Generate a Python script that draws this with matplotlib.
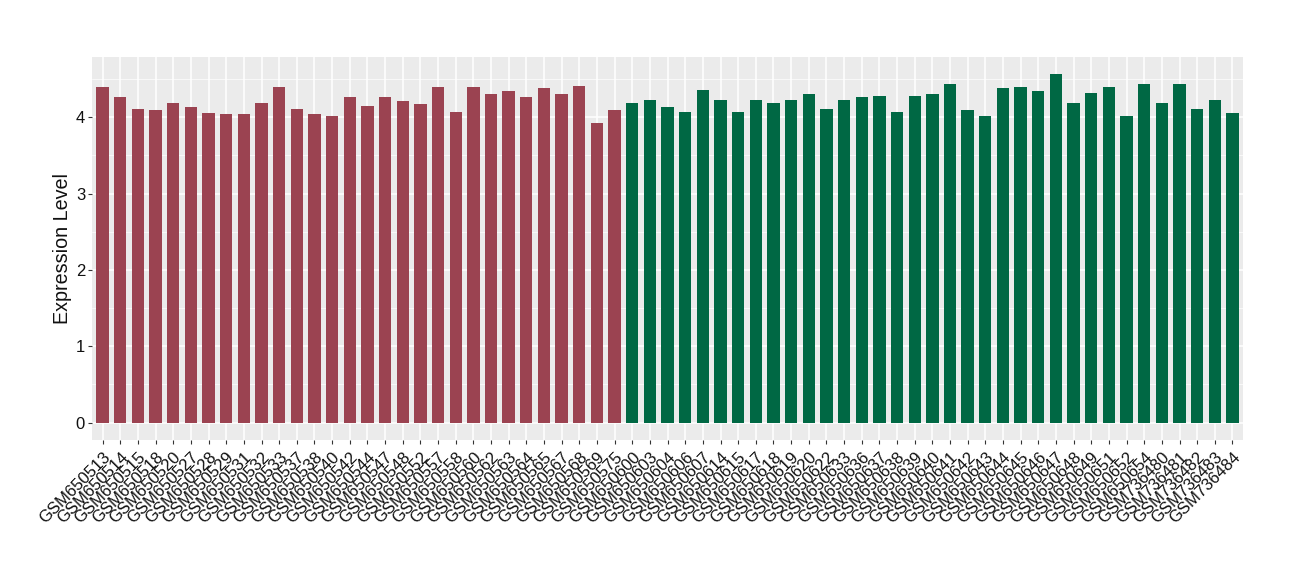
import matplotlib
matplotlib.use("Agg")
import matplotlib.pyplot as plt
import numpy as np
from matplotlib.ticker import MultipleLocator

plt.rcParams['font.family'] = ['Liberation Sans', 'DejaVu Sans']

group1_samples = ["GSM650513", "GSM650514", "GSM650515", "GSM650518", "GSM650520",
                  "GSM650527", "GSM650528", "GSM650529", "GSM650531", "GSM650532",
                  "GSM650533", "GSM650537", "GSM650538", "GSM650540", "GSM650542",
                  "GSM650544", "GSM650547", "GSM650548", "GSM650552", "GSM650557",
                  "GSM650558", "GSM650560", "GSM650562", "GSM650563", "GSM650564",
                  "GSM650565", "GSM650567", "GSM650568", "GSM650569", "GSM650575"]
group1_values = [4.40, 4.26, 4.11, 4.09, 4.19, 4.13, 4.05, 4.04, 4.04, 4.19,
                 4.39, 4.11, 4.04, 4.01, 4.27, 4.15, 4.27, 4.21, 4.17, 4.39,
                 4.07, 4.40, 4.31, 4.34, 4.26, 4.38, 4.30, 4.41, 3.92, 4.10]

group2_samples = ["GSM650600", "GSM650603", "GSM650604", "GSM650606", "GSM650607",
                  "GSM650614", "GSM650615", "GSM650617", "GSM650618", "GSM650619",
                  "GSM650620", "GSM650622", "GSM650633", "GSM650636", "GSM650637",
                  "GSM650638", "GSM650639", "GSM650640", "GSM650641", "GSM650642",
                  "GSM650643", "GSM650644", "GSM650645", "GSM650646", "GSM650647",
                  "GSM650648", "GSM650649", "GSM650651", "GSM650652", "GSM650654",
                  "GSM736480", "GSM736481", "GSM736482", "GSM736483", "GSM736484"]
group2_values = [4.18, 4.23, 4.13, 4.07, 4.36, 4.22, 4.07, 4.22, 4.19, 4.22,
                 4.31, 4.11, 4.22, 4.26, 4.28, 4.07, 4.28, 4.31, 4.43, 4.10,
                 4.02, 4.38, 4.39, 4.34, 4.56, 4.18, 4.32, 4.39, 4.02, 4.43,
                 4.18, 4.44, 4.11, 4.22, 4.06]

color1 = "#9B4351"
color2 = "#006844"

samples = group1_samples + group2_samples
values = group1_values + group2_values
colors = [color1] * len(group1_values) + [color2] * len(group2_values)

fig = plt.figure(figsize=(13, 5.8), dpi=100)
ax = fig.add_axes([0.0708, 0.2414, 0.8854, 0.6603])
x = np.arange(1, len(samples) + 1)
ax.set_facecolor("#EBEBEB")
ax.bar(x, values, width=0.7, color=colors, zorder=3)

n = len(samples)
ax.set_xlim(0.4, n + 0.6)
vmax = max(values)
ax.set_ylim(-0.05 * vmax, vmax * 1.05)
ax.yaxis.set_major_locator(MultipleLocator(1))
ax.yaxis.set_minor_locator(MultipleLocator(0.5))
ax.set_xticks(x)
ax.set_xticklabels(samples, rotation=45, ha='right', rotation_mode='anchor', fontsize=12)
ax.tick_params(axis='y', which='major', labelsize=12, color='#333333', labelcolor='#111111',
               length=3, width=0.8, pad=2)
ax.tick_params(axis='y', which='minor', length=0)
ax.tick_params(axis='x', color='#333333', labelcolor='#111111', length=3, width=0.8)
ax.grid(which='major', color='white', linewidth=1.1, zorder=0)
ax.grid(which='minor', axis='y', color='white', linewidth=0.5, zorder=0)
ax.set_axisbelow(True)
for s in ax.spines.values():
    s.set_visible(False)
ax.set_ylabel("Expression Level", fontsize=14.2, color='#111111', labelpad=3)

fig.savefig("out.png", dpi=100)
